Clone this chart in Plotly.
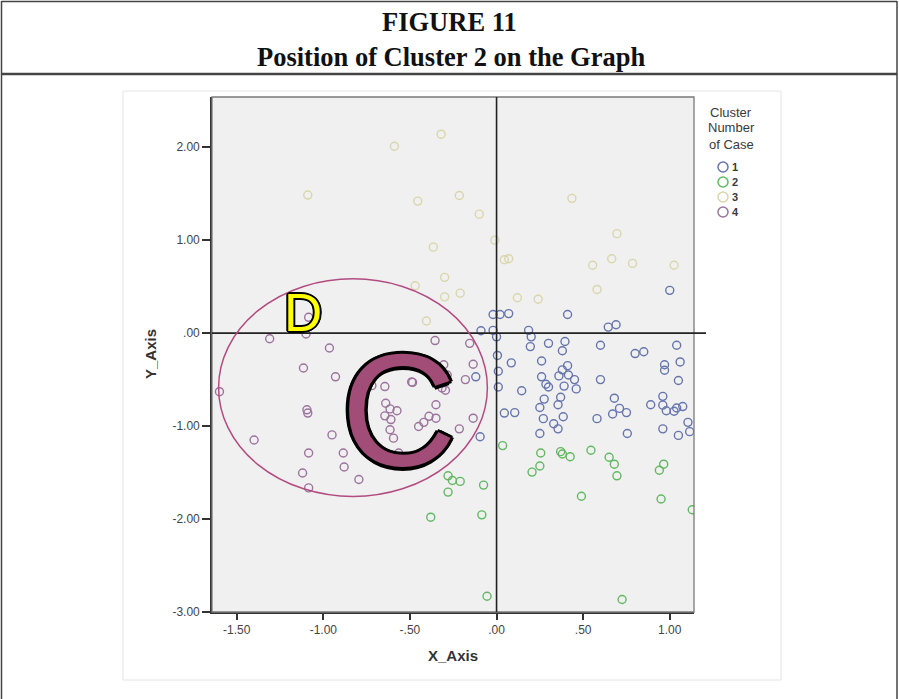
import plotly.graph_objects as go

# ---------------- data ----------------
cluster1_x = [1.00, -0.02, 0.02, 0.07, 0.41, 0.645, 0.69, -0.09, -0.02, 0.00,
              0.185, 0.20, 0.195, 0.30, 0.395, 0.38, 0.60, 1.04, 0.80, 0.85,
              0.26, 0.41, 0.38, 0.36, 0.415, 0.45, 0.46, 0.26, 0.285, 0.30,
              0.39, 0.60, 0.97, 0.97, 1.06, 1.05, 0.275, 0.25, 0.37, 0.355,
              0.27, 0.33, 0.355, 0.385, 0.25, 0.58, 0.68, 0.67, 0.71, 0.75,
              0.755, 0.89, 0.96, 0.96, 0.98, 1.025, 1.04, 1.075, 0.96, 1.05,
              1.105, 1.115, 0.005, 0.01, 0.01, 0.085, 0.145, 0.045, 0.105, -0.095,
              -0.12]
cluster1_y = [0.46, 0.20, 0.20, 0.21, 0.20, 0.065, 0.09, 0.025, 0.03, -0.04,
              0.03, -0.04, -0.145, -0.11, -0.09, -0.19, -0.13, -0.13, -0.22, -0.20,
              -0.30, -0.35, -0.395, -0.46, -0.45, -0.50, -0.60, -0.47, -0.55, -0.58,
              -0.57, -0.50, -0.34, -0.40, -0.31, -0.51, -0.71, -0.80, -0.69, -0.77,
              -0.92, -0.975, -1.03, -0.90, -1.08, -0.92, -0.70, -0.87, -0.81, -0.855,
              -1.08, -0.77, -0.68, -0.775, -0.835, -0.84, -0.805, -0.79, -1.03, -1.10,
              -0.96, -1.06, -0.24, -0.41, -0.58, -0.32, -0.62, -0.86, -0.855, -1.115,
              -0.47]

cluster2_x = [0.035, 0.255, 0.25, 0.205, 0.37, 0.38, 0.425, 0.545, 0.65, 0.68,
              0.695, 0.965, 0.94, 0.49, 0.95, 1.13, -0.075, -0.085, -0.28, -0.255,
              -0.21, -0.28, -0.38, -0.055, 0.725]
cluster2_y = [-1.21, -1.29, -1.43, -1.495, -1.275, -1.30, -1.33, -1.26, -1.335, -1.41,
              -1.535, -1.41, -1.475, -1.755, -1.785, -1.90, -1.635, -1.955, -1.535, -1.585,
              -1.595, -1.71, -1.98, -2.83, -2.865]

cluster3_x = [-1.09, -0.32, -0.59, -0.455, -0.215, -0.10, -0.01, -0.365, -0.30, -0.47,
              -0.21, -0.30, -0.405, 0.435, 0.695, 0.045, 0.07, 0.555, 0.665, 0.785,
              1.025, 0.58, 0.12, 0.24]
cluster3_y = [1.485, 2.14, 2.01, 1.42, 1.48, 1.28, 1.00, 0.925, 0.60, 0.51,
              0.43, 0.39, 0.13, 1.45, 1.07, 0.79, 0.80, 0.73, 0.80, 0.75,
              0.73, 0.47, 0.38, 0.365]

cluster4_x = [-1.085, -1.10, -1.31, -1.115, -1.60, -1.095, -1.09, -1.40, -1.085, -1.12,
              -1.085, -0.965, -0.93, -0.72, -0.645, -0.49, -0.355, -0.155, -0.305, -0.285,
              -0.135, -0.18, -0.485, -0.315, -0.295, -0.35, -0.39, -0.35, -0.42, -0.45,
              -0.135, -0.215, -0.64, -0.615, -0.575, -0.645, -0.61, -0.615, -0.595, -0.565,
              -0.95, -0.885, -0.88, -0.795]
cluster4_y = [0.17, -0.01, -0.06, -0.375, -0.63, -0.825, -0.86, -1.15, -1.29, -1.505,
              -1.665, -0.16, -0.47, -0.565, -0.575, -0.525, -0.08, -0.11, -0.34, -0.45,
              -0.335, -0.50, -0.53, -0.59, -0.615, -0.77, -0.895, -0.915, -0.96, -1.005,
              -0.915, -1.03, -0.755, -0.815, -0.835, -0.89, -0.93, -1.04, -1.13, -1.29,
              -1.095, -1.29, -1.44, -1.575]

cluster_labels = ["1", "2", "3", "4"]
cluster_colors = ["#6675ad", "#62b862", "#d9d6ab", "#9c739c"]

x_tick_vals = [-1.5, -1.0, -0.5, 0.0, 0.5, 1.0]
x_tick_text = ["-1.50", "-1.00", "-.50", ".00", ".50", "1.00"]
y_tick_vals = [2.0, 1.0, 0.0, -1.0, -2.0, -3.0]
y_tick_text = ["2.00", "1.00", ".00", "-1.00", "-2.00", "-3.00"]

# ellipse marking cluster 4 (data units)
ellipse_x = [-1.605, -0.053]
ellipse_y = [-1.757, 0.584]

# ---------------- layout geometry ----------------
W, H = 899, 699
L, R, T, B = 212, 205, 97, 87
PW, PH = W - L - R, H - T - B


def px(xpix):
    return (xpix - L) / PW


def py(ypix):
    return (H - B - ypix) / PH


fig = go.Figure()
series = [(cluster1_x, cluster1_y), (cluster2_x, cluster2_y),
          (cluster3_x, cluster3_y), (cluster4_x, cluster4_y)]
for (xs, ys), name, col in zip(series, cluster_labels, cluster_colors):
    fig.add_trace(go.Scatter(
        x=xs, y=ys, mode="markers", name=name, showlegend=False,
        marker=dict(symbol="circle-open", size=8, color=col,
                    line=dict(width=1.4, color=col)),
        hoverinfo="x+y+name"))

shapes = []
# figure frame
frame_col = "#444444"
shapes.append(dict(type="line", xref="paper", yref="paper", x0=px(1.5), x1=px(1.5),
                   y0=py(1), y1=py(699), line=dict(color=frame_col, width=1.5)))
shapes.append(dict(type="line", xref="paper", yref="paper", x0=px(897), x1=px(897),
                   y0=py(1), y1=py(699), line=dict(color=frame_col, width=1.5)))
shapes.append(dict(type="line", xref="paper", yref="paper", x0=px(1.5), x1=px(897),
                   y0=py(1.5), y1=py(1.5), line=dict(color=frame_col, width=1.5)))
shapes.append(dict(type="line", xref="paper", yref="paper", x0=px(1.5), x1=px(897),
                   y0=py(74), y1=py(74), line=dict(color=frame_col, width=2.5)))
# faint image border
shapes.append(dict(type="rect", xref="paper", yref="paper", x0=px(123), x1=px(781),
                   y0=py(91), y1=py(680), line=dict(color="#e4e4e4", width=1)))
# plot border (top/right lighter)
shapes.append(dict(type="rect", xref="paper", yref="paper", x0=0, x1=1, y0=0, y1=1,
                   line=dict(color="#7a7a7a", width=1.3)))
# reference lines at zero
shapes.append(dict(type="line", xref="x", yref="paper", x0=0, x1=0, y0=0, y1=1,
                   line=dict(color="#222222", width=1.6)))
shapes.append(dict(type="line", xref="paper", yref="y", x0=0, x1=px(706), y0=0, y1=0,
                   line=dict(color="#222222", width=1.6)))
# ellipse around cluster 4
shapes.append(dict(type="circle", xref="x", yref="y",
                   x0=ellipse_x[0], x1=ellipse_x[1], y0=ellipse_y[0], y1=ellipse_y[1],
                   line=dict(color="#b24b80", width=1.5)))

annotations = []


def ann(text, x, y, size, family="Liberation Sans", color="#333333", xanchor="center",
        **kw):
    annotations.append(dict(text=text, xref="paper", yref="paper", x=x, y=y,
                            showarrow=False, xanchor=xanchor, yanchor="middle",
                            font=dict(family=family, size=size, color=color), **kw))


ann("<b>FIGURE 11</b>", px(449.5), py(22), 26.5, family="Liberation Serif", color="#111111")
ann("<b>Position of Cluster 2 on the Graph</b>", px(451), py(57), 26.5,
    family="Liberation Serif", color="#111111")
ann("<b>X_Axis</b>", 0.5, py(655), 15)
ann("<b>Y_Axis</b>", px(150), py(354), 15, textangle=-90)
# legend title
for txt, yy in zip(["Cluster", "Number", "of Case"], [113, 128, 144]):
    ann(txt, px(731), py(yy), 13, color="#3a3a3a")
# legend items
leg_y = [167, 182, 197, 212]
for lab, col, yy in zip(cluster_labels, cluster_colors, leg_y):
    shapes.append(dict(type="circle", xref="paper", yref="paper",
                       x0=px(718), x1=px(728), y0=py(yy + 5), y1=py(yy - 5),
                       line=dict(color=col, width=1.5)))
    ann("<b>" + lab + "</b>", px(730), py(yy), 11, color="#3a3a3a", xanchor="left")

outline = lambda w: ", ".join(
    f"{dx}px {dy}px 0 #000" for dx, dy in
    [(w, 0), (-w, 0), (0, w), (0, -w), (w * 0.7, w * 0.7), (-w * 0.7, -w * 0.7),
     (w * 0.7, -w * 0.7), (-w * 0.7, w * 0.7)])

annotations.append(dict(text="D", xref="x", yref="y", x=-1.119, y=0.218, showarrow=False,
                        xanchor="center", yanchor="middle",
                        font=dict(family="Liberation Sans", size=53, color="#ffff00",
                                  shadow=outline(2))))
annotations.append(dict(text="C", xref="x", yref="y", x=-0.565, y=-0.82, showarrow=False,
                        xanchor="center", yanchor="middle",
                        font=dict(family="Liberation Sans", size=160, color="#a24d78",
                                  shadow=outline(3.5))))

fig.update_layout(
    width=W, height=H,
    margin=dict(l=L, r=R, t=T, b=B),
    paper_bgcolor="white", plot_bgcolor="#f0f0f0",
    shapes=shapes, annotations=annotations,
    xaxis=dict(range=[-1.643, 1.14], tickvals=x_tick_vals, ticktext=x_tick_text,
               showgrid=False, zeroline=False, showline=True, linecolor="#333333",
               linewidth=1.6, ticks="outside", ticklen=6, tickwidth=1.5,
               tickcolor="#333333",
               tickfont=dict(family="Liberation Sans", size=12, color="#444444")),
    yaxis=dict(range=[-3.0, 2.54], tickvals=y_tick_vals, ticktext=y_tick_text,
               showgrid=False, zeroline=False, showline=True, linecolor="#333333",
               linewidth=1.6, ticks="outside", ticklen=8, tickwidth=1.5,
               tickcolor="#333333",
               tickfont=dict(family="Liberation Sans", size=12, color="#444444")),
)

fig.write_html("out.html", config={"displayModeBar": False},
               post_script="document.body.style.margin='0px';"
               "document.body.style.overflow='hidden';")
